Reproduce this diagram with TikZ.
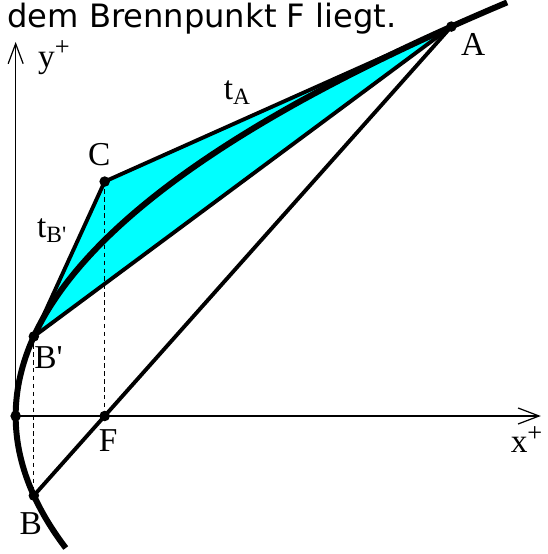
\documentclass[tikz,border=0pt]{standalone}
\usepackage{fontspec}
\usepackage{tikz}
\usetikzlibrary{arrows.meta}
\newfontfamily\headfont{DejaVu Sans}
\newfontfamily\labelfont{Liberation Serif}
\definecolor{aqua}{RGB}{0,255,255}
\newcommand{\plussup}{\raisebox{0.75ex}{\fontsize{15}{15}\selectfont +}}

\begin{document}
\begin{tikzpicture}[x=1.78cm,y=1.76cm,
  lbl/.style={font=\labelfont\fontsize{19}{21}\selectfont, inner sep=0pt}]
\useasboundingbox (-0.176,-1.568) rectangle (5.970,4.727);

% points on the parabola y^2 = 4x (b = 0.904)
\coordinate (V) at (0,0);
\coordinate (F) at (1,0);
\coordinate (Bp) at (0.2043,0.904);
\coordinate (B) at (0.2043,-0.904);
\coordinate (A) at (4.895,4.425);
\coordinate (C) at (1,2.664);
\coordinate (xend) at (5.90,0);
\coordinate (yend) at (0,4.25);

% shaded triangle
\fill[aqua] (Bp) -- (C) -- (A) -- cycle;

% axes
\draw[line width=0.7pt, -{Straight Barb[length=0.42cm,width=0.32cm]}] (V) -- (xend);
\draw[line width=0.7pt, -{Straight Barb[length=0.40cm,width=0.30cm]}] (V) -- (yend);

\draw[dash pattern=on 2.5pt off 2pt, line width=0.6pt] (C) -- (F);
\draw[dash pattern=on 2.5pt off 2pt, line width=0.6pt] (Bp) -- (B);

\draw[line width=2.2pt, line join=round] (Bp) -- (C) -- (A);
\draw[line width=2.2pt] (Bp) -- (A);
\draw[line width=2.2pt] (B) -- (A);

\draw[line width=3.4pt] plot[domain=-1.5:4.7, samples=90, smooth] ({\x*\x/4},\x);

\foreach \p in {V,F,A,B,Bp,C}
  \fill (\p) circle (3pt);

\node[anchor=base west, font=\headfont\fontsize{18.3}{21}\selectfont, inner sep=0pt] (txt) at (-0.098,4.42) {dem Brennpunkt F liegt.};

\node[lbl] (labA) at (5.14,4.22) {A};
\node[lbl] (labY) at (0.43,4.07) {y\plussup};
\node[lbl] (labtA) at (2.49,3.68) {t\textsubscript{A}};
\node[lbl] (labC) at (0.94,2.97) {C};
\node[lbl] (labtB) at (0.41,2.11) {t\textsubscript{B'}};
\node[lbl] (labBp) at (0.37,0.66) {B'};
\node[lbl] (labF) at (1.04,-0.28) {F};
\node[lbl] (labX) at (5.74,-0.27) {x\plussup};
\node[lbl] (labB) at (0.17,-1.22) {B};

\end{tikzpicture}
\end{document}
